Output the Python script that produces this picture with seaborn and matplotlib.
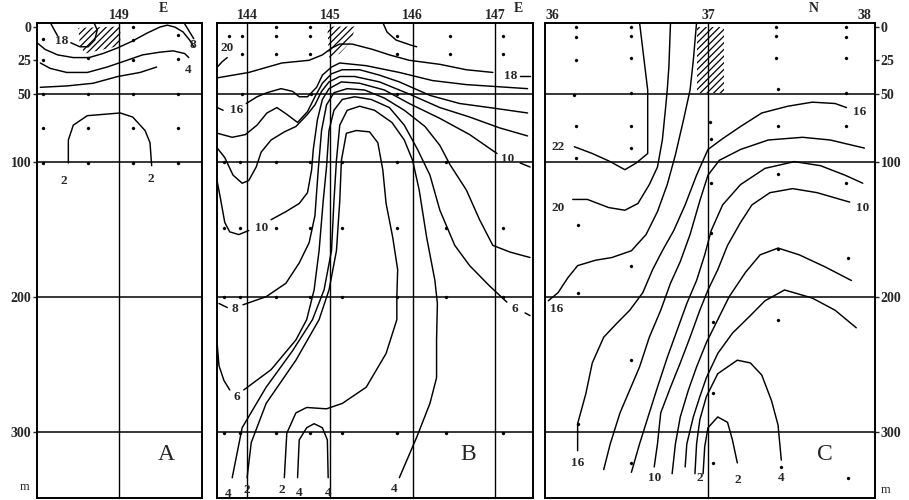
import matplotlib
matplotlib.use("Agg")
import matplotlib.pyplot as plt
import seaborn as sns

# positions in degrees (A, B: longitude E; C: latitude N), depth in m

# ---------- panel A ----------
a_18a = ([148.16, 148.25], [-3, 7])
a_18b = ([148.41, 148.52, 148.62, 148.70, 148.73, 148.69], [12, 15, 15, 10, 2.6, -3])
a_8a = ([148.00, 148.10, 148.25, 148.44, 148.63, 148.80, 148.97, 149.15, 149.33, 149.49,
         149.58, 149.67, 149.77, 149.85, 149.90],
        [12, 17, 21, 23, 23, 20, 16, 11, 5, 0.4, -1, 0.4, 4, 10, 15])
a_8b = ([149.78, 149.85, 149.90], [-3, 4, 9])
a_4 = ([148.04, 148.16, 148.36, 148.61, 148.85, 149.09, 149.28, 149.49, 149.65, 149.79, 149.84],
       [27, 31, 34, 34, 30, 25, 21, 19, 18, 20, 23])
a_low = ([148.04, 148.36, 148.68, 148.98, 149.25, 149.45], [45, 44, 42, 37, 34, 30])
a_2 = ([148.38, 148.38, 148.44, 148.61, 149.01, 149.16, 149.31, 149.37, 149.39],
       [101, 84, 73, 66, 64, 67, 77, 86, 103])
a_hatch = ([148.50, 149.01, 149.01, 148.88, 148.58, 148.52], [1, 0, 14, 16, 20, 14])
a_labels = [("18", 148.30, 11), ("8", 149.89, 14), ("4", 149.83, 32),
            ("2", 148.33, 114), ("2", 149.38, 113)]
a_dot_x = [148.07, 149.16, 149.16, 149.71, 148.07, 148.62, 149.16, 149.71, 148.07, 148.62,
           149.16, 149.71, 148.07, 148.62, 149.16, 149.71, 148.07, 148.62, 149.16, 149.71]
a_dot_y = [9, 0, 10, 6, 25, 23, 25, 24, 50, 50, 50, 50, 75, 75, 75, 75, 101, 101, 101, 101]

# ---------- panel B ----------
b_20 = ([143.76, 143.70, 143.64], [23, 26, 30])
b_20e = ([145.64, 145.69, 145.80, 145.99, 146.05], [-3, 4, 10, 14, 15])
b_18 = ([143.64, 144.02, 144.42, 144.75, 144.91, 145.02, 145.12, 145.27, 145.52, 145.72,
         145.96, 146.33, 146.65, 146.97], [38, 34, 27, 25, 21, 16, 13, 13, 17, 21, 25, 28, 32, 34])
b_18dash = ([147.30, 147.42], [37, 37])
b_16dash = ([143.64, 143.71], [60, 62])
b_16 = ([143.99, 144.12, 144.24, 144.41, 144.55, 144.63, 144.73, 144.84, 144.91, 145.02,
         145.12, 145.44, 145.84, 146.24, 146.65, 147.39],
        [57, 52, 49, 46, 48, 52, 52, 45, 36, 30, 27, 29, 34, 40, 43, 46])
b_14 = ([143.64, 143.82, 143.98, 144.12, 144.24, 144.36, 144.48, 144.61, 144.73, 144.82,
         144.91, 145.02, 145.15, 145.36, 145.60, 145.84, 146.21, 146.57, 146.93, 147.39],
        [79, 82, 80, 73, 64, 60, 65, 71, 63, 52, 42, 35, 32, 32, 36, 41, 51, 57, 60, 64])
b_12 = ([143.64, 143.73, 143.83, 143.94, 144.02, 144.11, 144.17, 144.29, 144.45, 144.59,
         144.73, 144.82, 144.90, 144.99, 145.12, 145.30, 145.60, 145.96, 146.33, 146.69,
         147.05, 147.39],
        [90, 97, 110, 116, 114, 104, 93, 84, 78, 74, 65, 58, 48, 41, 37, 37, 41, 50, 60, 67, 75, 81])
b_10w = ([143.64, 143.68, 143.73, 143.79, 143.90, 144.02], [115, 128, 145, 152, 154, 151])
b_10 = ([144.29, 144.47, 144.63, 144.73, 144.78, 144.80, 144.85, 144.91, 144.99, 145.14,
         145.36, 145.66, 145.96, 146.33, 146.69, 147.02],
        [143, 137, 131, 123, 106, 91, 69, 54, 46, 41, 42, 47, 57, 68, 80, 94])
b_10dash = ([147.30, 147.42], [101, 104])
b_8dash = ([143.66, 143.76], [205, 208])
b_8 = ([143.95, 144.23, 144.47, 144.63, 144.75, 144.82, 144.86, 144.90, 144.96, 145.05,
        145.21, 145.42, 145.66, 145.90, 146.15, 146.33, 146.45, 146.65, 146.81, 146.97,
        147.18, 147.42],
       [206, 200, 190, 175, 160, 140, 106, 77, 58, 49, 46, 47, 53, 62, 74, 88, 102, 121,
        143, 162, 167, 171])
b_6w = ([143.64, 143.66, 143.72, 143.79], [236, 251, 262, 269])
b_6 = ([143.96, 144.29, 144.59, 144.72, 144.81, 144.87, 144.92, 144.96, 144.99, 145.05,
        145.15, 145.30, 145.50, 145.72, 145.90, 146.06, 146.21, 146.33, 146.51, 146.69,
        146.93, 147.14],
       [269, 254, 232, 217, 195, 166, 129, 104, 77, 62, 54, 52, 54, 60, 73, 91, 110, 136,
        162, 177, 192, 204])
b_6dash = ([147.36, 147.42], [212, 214])
b_4 = ([143.82, 143.94, 144.23, 144.55, 144.79, 144.93, 145.02, 145.05, 145.08, 145.12,
        145.21, 145.36, 145.54, 145.75, 145.90, 146.00, 146.08, 146.17, 146.27, 146.30,
        146.29, 146.29, 146.21, 146.05, 145.84],
       [334, 297, 267, 240, 217, 195, 166, 129, 99, 73, 62, 59, 62, 71, 84, 99, 121, 156,
        188, 205, 232, 260, 279, 304, 334])
b_2 = ([144.00, 144.05, 144.23, 144.59, 144.87, 144.99, 145.08, 145.12, 145.14, 145.20,
        145.32, 145.48, 145.58, 145.64, 145.68, 145.76, 145.82, 145.81, 145.81, 145.68,
        145.44, 145.15, 144.96, 144.72, 144.59, 144.48, 144.45],
       [334, 308, 279, 247, 217, 195, 166, 129, 99, 79, 77, 78, 86, 106, 131, 156, 180, 200,
        217, 242, 267, 279, 283, 282, 286, 301, 334])
b_4s = ([144.61, 144.63, 144.72, 144.81, 144.91, 144.97, 144.98], [334, 306, 297, 294, 297, 306, 334])
b_hatch = ([144.97, 145.30, 145.27, 145.12, 144.99], [0, 0, 10, 20, 23])
b_labels = [("20", 143.76, 16), ("18", 147.18, 37), ("16", 143.87, 62), ("10", 144.18, 149),
            ("10", 147.15, 98), ("8", 143.85, 209), ("6", 143.87, 274), ("6", 147.24, 209),
            ("4", 143.77, 346), ("2", 144.00, 343), ("2", 144.42, 343), ("4", 144.63, 345),
            ("4", 144.98, 345), ("4", 145.78, 342)]
b_st = [143.72, 143.92, 144.35, 144.76, 145.15, 145.81, 146.41, 147.09]
b_dot_x = ([144.35, 144.76] + [143.78, 143.94, 144.35, 144.76, 145.81, 146.45, 147.09]
           + [143.94, 144.35, 144.76, 145.81, 146.45, 147.09] + [143.94, 144.77, 145.81]
           + b_st[:7] + b_st + b_st + b_st)
b_dot_y = ([0] * 2 + [7] * 7 + [20] * 6 + [50] * 3 + [100] * 7 + [149] * 8 + [200] * 8 + [301] * 8)

# ---------- panel C ----------
c_22 = ([36.18, 36.29, 36.40, 36.49, 36.56, 36.63, 36.63, 36.63, 36.60, 36.58],
        [89, 94, 100, 106, 101, 94, 74, 47, 17, -3])
c_20 = ([36.17, 36.26, 36.39, 36.49, 36.57, 36.64, 36.69, 36.72, 36.74, 36.75, 36.76, 36.77],
        [128, 128, 134, 136, 131, 117, 104, 84, 60, 47, 30, -3])
c_18 = ([36.93, 36.91, 36.89, 36.85, 36.80, 36.75, 36.69, 36.62, 36.53, 36.41, 36.31, 36.20,
         36.14, 36.08, 36.02],
        [-3, 25, 47, 69, 95, 117, 137, 154, 166, 171, 173, 177, 186, 197, 203])
c_16 = ([36.20, 36.20, 36.25, 36.29, 36.36, 36.43, 36.52, 36.60, 36.66, 36.72, 36.79, 36.86,
         36.93, 37.00, 37.09, 37.20, 37.33, 37.49, 37.64, 37.78, 37.85],
        [314, 294, 272, 249, 230, 221, 210, 197, 180, 166, 151, 132, 110, 91, 83, 74, 64, 59,
         56, 57, 60])
c_14 = ([36.36, 36.40, 36.46, 36.52, 36.58, 36.64, 36.71, 36.77, 36.83, 36.89, 36.95, 37.00,
         37.07, 37.20, 37.37, 37.58, 37.75, 37.96],
        [328, 309, 286, 269, 252, 230, 210, 190, 174, 154, 129, 110, 99, 91, 84, 82, 84, 90])
c_12 = ([36.53, 36.58, 36.64, 36.69, 36.75, 36.81, 36.87, 36.93, 36.98, 37.02, 37.09, 37.20,
         37.35, 37.53, 37.69, 37.84, 37.95],
        [330, 309, 286, 267, 245, 225, 205, 188, 169, 151, 132, 117, 105, 100, 103, 110, 116])
c_10 = ([36.67, 36.69, 36.71, 36.77, 36.83, 36.89, 36.95, 37.00, 37.06, 37.12, 37.20, 37.27,
         37.38, 37.52, 37.67, 37.87],
        [326, 309, 286, 267, 249, 230, 210, 195, 180, 162, 145, 132, 123, 120, 123, 130])
c_8 = ([36.78, 36.80, 36.83, 36.88, 36.93, 36.99, 37.06, 37.13, 37.23, 37.32, 37.43, 37.56,
        37.72, 37.88],
       [331, 309, 289, 269, 252, 234, 217, 200, 182, 169, 164, 169, 178, 188])
c_6 = ([36.86, 36.87, 36.91, 36.95, 36.99, 37.06, 37.15, 37.26, 37.35, 37.47, 37.64, 37.78, 37.91],
       [326, 309, 289, 274, 260, 242, 227, 214, 203, 195, 201, 210, 223])
c_4 = ([36.92, 36.93, 36.95, 36.99, 37.06, 37.18, 37.26, 37.33, 37.39, 37.43, 37.45],
       [331, 309, 291, 274, 257, 247, 249, 258, 277, 295, 321])
c_2 = ([36.97, 36.98, 37.00, 37.06, 37.12, 37.15, 37.18], [331, 311, 297, 289, 293, 306, 323])
c_hatch = ([36.93, 37.10, 37.10, 36.93], [0, 0, 49, 49])
c_labels = [("22", 36.08, 89), ("20", 36.08, 134), ("16", 36.07, 209), ("16", 37.93, 63),
            ("10", 37.95, 134), ("16", 36.20, 323), ("10", 36.67, 334), ("2", 36.95, 334),
            ("2", 37.18, 336), ("4", 37.45, 334)]
c_dot_x = [36.19, 36.53, 37.42, 37.85, 36.19, 36.53, 37.42, 37.85, 36.19, 36.53, 37.42, 37.85,
           36.18, 36.53, 37.43, 37.85, 36.19, 36.53, 37.01, 37.43, 37.85, 36.19, 36.53, 37.02,
           37.02, 37.43, 37.85, 36.20, 37.02, 37.43, 37.86, 36.53, 36.20, 37.03, 37.43, 36.53,
           37.03, 36.20, 36.53, 37.03, 37.45, 37.86]
c_dot_y = [0, 0, 0, 0, 8, 7, 7, 8, 25, 23, 23, 23, 51, 49, 46, 49, 74, 74, 71, 74, 74, 97, 90,
           83, 116, 109, 116, 147, 153, 165, 171, 177, 197, 219, 217, 247, 271, 294, 323, 323,
           326, 334]

depth_grid = [50, 100, 200, 300]
depth_ticks = [0, 25, 50, 100, 200, 300]

sns.set_theme(style="white")
plt.rcParams["font.family"] = ["Liberation Serif", "DejaVu Serif"]
plt.rcParams["hatch.linewidth"] = 0.9

fig = plt.figure(figsize=(9.09, 5.0), dpi=100)
axA = fig.add_axes([0.0407, 0.004, 0.1815, 0.95])
axB = fig.add_axes([0.2387, 0.004, 0.3476, 0.95])
axC = fig.add_axes([0.5996, 0.004, 0.3630, 0.95])


def draw(ax, lines, hatch, labels, dot_x, dot_y):
    for xs, ys in lines:
        sns.lineplot(x=xs, y=ys, sort=False, estimator=None, color="black",
                     linewidth=1.05, ax=ax, zorder=3)
    ax.fill(hatch[0], hatch[1], facecolor="none", edgecolor="black", hatch="/////",
            linewidth=0, zorder=2)
    sns.scatterplot(x=dot_x, y=dot_y, color="black", s=5, edgecolor=None, ax=ax, zorder=4)
    for s, x, y in labels:
        ax.text(x, y, s, ha="center", va="center", fontsize=9.5, fontweight="bold", zorder=5)


def frame(ax, xlim, vgrid, xticks, xlabels, letter, letter_x):
    ax.set_xlim(*xlim)
    ax.set_ylim(349, -2.6)
    for d in depth_grid:
        ax.axhline(d, color="black", lw=1.1, zorder=1)
    for v in vgrid:
        ax.axvline(v, color="black", lw=1.0, zorder=1)
    ax.xaxis.tick_top()
    ax.set_xticks(xticks)
    ax.set_xticklabels(xlabels, fontsize=10, fontweight="bold")
    ax.tick_params(axis="x", length=0, pad=1)
    ax.set_yticks([])
    ax.set_xlabel("")
    ax.set_ylabel("")
    for sp in ax.spines.values():
        sp.set_color("black")
        sp.set_linewidth(1.4)
    ax.text(letter_x, 317, letter, ha="center", va="center", fontsize=17)


draw(axA, [a_18a, a_18b, a_8a, a_8b, a_4, a_low, a_2], a_hatch, a_labels, a_dot_x, a_dot_y)
draw(axB, [b_20, b_20e, b_18, b_18dash, b_16dash, b_16, b_14, b_12, b_10w, b_10, b_10dash,
           b_8dash, b_8, b_6w, b_6, b_6dash, b_4, b_2, b_4s], b_hatch, b_labels, b_dot_x, b_dot_y)
draw(axC, [c_22, c_20, c_18, c_16, c_14, c_12, c_10, c_8, c_6, c_4, c_2], c_hatch, c_labels,
     c_dot_x, c_dot_y)

frame(axA, (148.0, 150.0), [149], [149], ["149"], "A", 149.57)
frame(axB, (143.636, 147.455), [144, 145, 146, 147], [144, 145, 146, 147],
      ["144", "145", "146", "147"], "B", 146.67)
frame(axC, (36.0, 38.025), [37], [36, 37, 38], ["36", "37", "38"], "C", 37.72)

# right-most latitude label sits just inside the frame
axC.get_xticklabels()[-1].set_horizontalalignment("right")
axC.get_xticklabels()[0].set_horizontalalignment("left")

axA.text(0.764, 1.017, "E", transform=axA.transAxes, ha="center", va="bottom",
         fontsize=10, fontweight="bold")
axB.text(0.953, 1.017, "E", transform=axB.transAxes, ha="center", va="bottom",
         fontsize=10, fontweight="bold")
axC.text(0.815, 1.017, "N", transform=axC.transAxes, ha="center", va="bottom",
         fontsize=10, fontweight="bold")

axA.set_yticks(depth_ticks)
axA.set_yticklabels([str(d) for d in depth_ticks], fontsize=10, fontweight="bold")
axA.tick_params(axis="y", length=3, width=1, pad=1, left=True)
axC.yaxis.tick_right()
axC.set_yticks(depth_ticks)
axC.set_yticklabels([str(d) for d in depth_ticks], fontsize=10, fontweight="bold")
axC.tick_params(axis="y", length=3, width=1, pad=1, right=True)

fig.text(25 / 909, 1 - 487 / 500, "m", ha="center", va="center", fontsize=9)
fig.text(886 / 909, 1 - 490 / 500, "m", ha="center", va="center", fontsize=9)

fig.savefig("out.png", dpi=100)
